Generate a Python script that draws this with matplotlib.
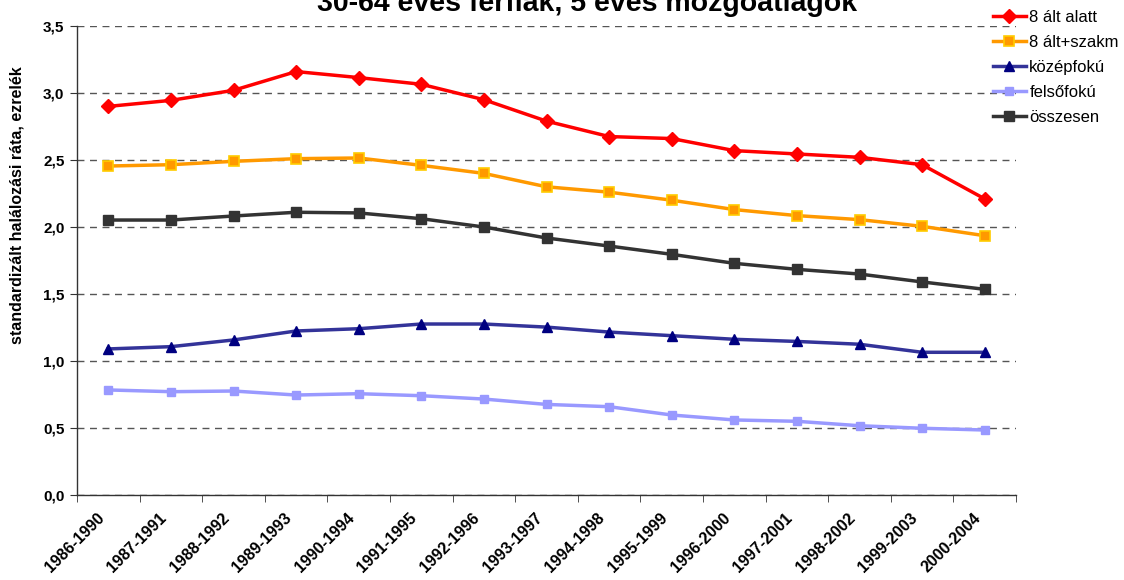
import numpy as np
import matplotlib
matplotlib.use("Agg")
from matplotlib import pyplot as plt
from matplotlib import transforms
from matplotlib.ticker import FuncFormatter, MultipleLocator

plt.rcParams['font.family'] = ['Liberation Sans', 'DejaVu Sans']

periods = ["1986-1990", "1987-1991", "1988-1992", "1989-1993", "1990-1994",
           "1991-1995", "1992-1996", "1993-1997", "1994-1998", "1995-1999",
           "1996-2000", "1997-2001", "1998-2002", "1999-2003", "2000-2004"]

alt8_alatt = [2.90, 2.945, 3.02, 3.16, 3.115, 3.065, 2.95, 2.79, 2.675, 2.66,
              2.57, 2.545, 2.52, 2.465, 2.21]
alt8_szakm = [2.455, 2.465, 2.49, 2.51, 2.515, 2.46, 2.40, 2.30, 2.26, 2.20,
              2.13, 2.085, 2.055, 2.005, 1.935]
kozepfoku = [1.09, 1.107, 1.157, 1.224, 1.241, 1.276, 1.276, 1.253, 1.216,
             1.189, 1.162, 1.146, 1.125, 1.065, 1.065]
felsofoku = [0.784, 0.771, 0.776, 0.746, 0.756, 0.741, 0.716, 0.676, 0.659,
             0.597, 0.560, 0.550, 0.517, 0.498, 0.485]
osszesen = [2.052, 2.052, 2.082, 2.11, 2.105, 2.062, 2.0, 1.918, 1.858,
            1.796, 1.729, 1.684, 1.649, 1.59, 1.535]

fig = plt.figure(figsize=(11.24, 5.8), dpi=100)
ax = fig.add_axes([77 / 1124, 85 / 580, 939 / 1124, 469 / 580])

x = np.arange(len(periods))
lw = 2.5
ax.plot(x, alt8_alatt, color="#FF0000", lw=lw, marker="D", ms=7,
        mfc="#FF0000", mec="#FF0000", label="8 ált alatt", zorder=5)
ax.plot(x, alt8_szakm, color="#FF9900", lw=lw, marker="s", ms=7,
        mfc="#FF9900", mec="#FFCC00", mew=1.2, label="8 ált+szakm", zorder=5)
ax.plot(x, kozepfoku, color="#333399", lw=lw, marker="^", ms=6.5,
        mfc="#000080", mec="#000080", label="középfokú", zorder=5)
ax.plot(x, felsofoku, color="#9999FF", lw=lw, marker="s", ms=6,
        mfc="#9999FF", mec="#9999FF", label="felsőfokú", zorder=5)
ax.plot(x, osszesen, color="#333333", lw=lw, marker="s", ms=6.5,
        mfc="#333333", mec="#333333", label="összesen", zorder=5)

ax.set_xlim(-0.5, len(periods) - 0.5)
ax.set_ylim(0, 3.5)
ax.yaxis.set_major_locator(MultipleLocator(0.5))
ax.yaxis.set_major_formatter(FuncFormatter(lambda v, p: f"{v:.1f}".replace(".", ",")))
ax.yaxis.grid(True, linestyle=(0, (5, 4)), color="#555555", lw=1.0)
ax.set_axisbelow(True)

ax.set_xticks(x)
ax.set_xticks(np.arange(-0.5, len(periods)), minor=True)
ax.tick_params(axis="x", which="major", length=0, pad=11)
ax.tick_params(axis="x", which="minor", length=5, direction="out", color="#333333")
ax.tick_params(axis="y", length=5, direction="out", color="#333333",
               labelsize=11, pad=4)
ax.set_xticklabels(periods, rotation=45, ha="right", rotation_mode="anchor",
                   fontsize=11.5, fontweight="bold")
# nudge the slanted labels a bit to the left, as in the original
shift = transforms.ScaledTranslation(-12 / 100, 0, fig.dpi_scale_trans)
for t in ax.get_xticklabels():
    t.set_transform(t.get_transform() + shift)
for t in ax.get_yticklabels():
    t.set_fontweight("bold")

for s in ["top", "right"]:
    ax.spines[s].set_visible(False)
for s in ["left", "bottom"]:
    ax.spines[s].set_color("#333333")
    ax.spines[s].set_linewidth(1.0)

fig.text(17 / 1124, 1 - 205 / 580, "standardizált halálozási ráta, ezrelék",
         rotation=90, ha="center", va="center", fontsize=11.5, fontweight="bold")

fig.text(0.522, 1 - 11 / 580, "30-64 éves férfiak, 5 éves mozgóátlagok", ha="center",
         va="baseline", fontsize=20.5, fontweight="bold")

leg = fig.legend(loc="upper left", bbox_to_anchor=(986 / 1124, 1 - 3 / 580),
                 frameon=False, fontsize=12, handlelength=2.0, handletextpad=0.2,
                 labelspacing=0.6, borderaxespad=0)

fig.savefig("out.png", dpi=100)
